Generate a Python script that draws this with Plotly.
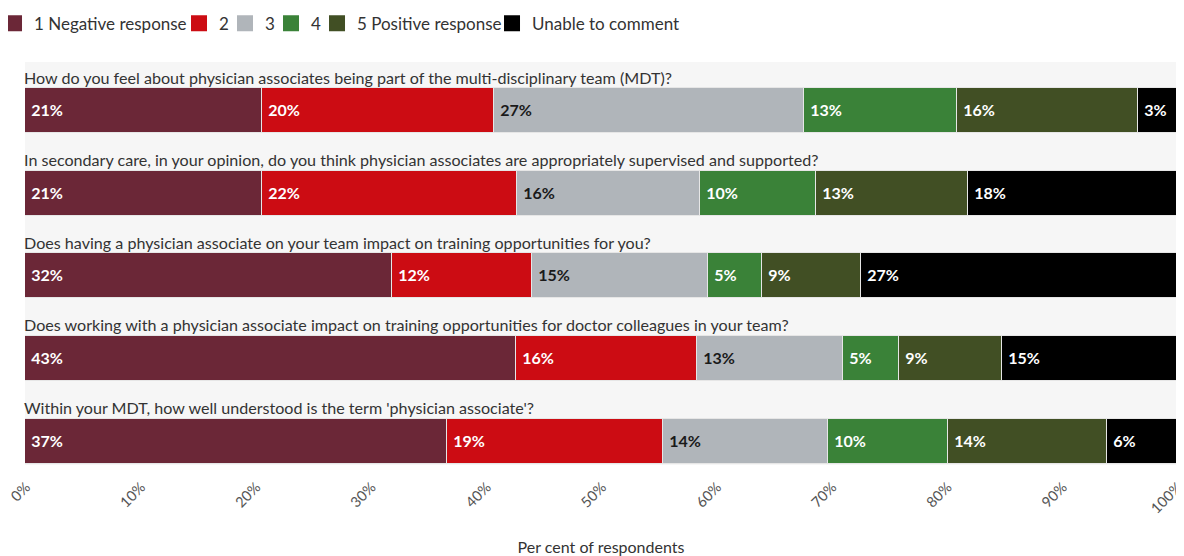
import plotly.graph_objects as go

questions = [
    "How do you feel about physician associates being part of the multi-disciplinary team (MDT)?",
    "In secondary care, in your opinion, do you think physician associates are appropriately supervised and supported?",
    "Does having a physician associate on your team impact on training opportunities for you?",
    "Does working with a physician associate impact on training opportunities for doctor colleagues in your team?",
    "Within your MDT, how well understood is the term 'physician associate'?",
]

series_names = ["1 Negative response", "2", "3", "4", "5 Positive response", "Unable to comment"]

resp_1 = [20.6, 20.6, 31.9, 42.6, 36.6]
resp_2 = [20.1, 22.1, 12.1, 15.7, 18.8]
resp_3 = [26.9, 15.9, 15.3, 12.7, 14.3]
resp_4 = [13.3, 10.1, 4.7, 4.9, 10.4]
resp_5 = [15.7, 13.2, 8.6, 8.9, 13.8]
resp_unable = [3.4, 18.1, 27.4, 15.3, 6.2]

tick_vals = [0, 10, 20, 30, 40, 50, 60, 70, 80, 90, 100]
tick_text = ["0%", "10%", "20%", "30%", "40%", "50%", "60%", "70%", "80%", "90%", "100%"]

colors = ["#6b2737", "#cc0c13", "#b0b5ba", "#3a8238", "#414f24", "#000000"]
text_colors = ["#ffffff", "#ffffff", "#1a1a1a", "#ffffff", "#ffffff", "#ffffff"]
legend_entry_widths = [140, 1, 1, 1, 130, 0]

FONT = "Lato"

fig = go.Figure()
all_series = [resp_1, resp_2, resp_3, resp_4, resp_5, resp_unable]
ypos = list(range(len(questions)))
for name, vals, col, tcol in zip(series_names, all_series, colors, text_colors):
    fig.add_trace(go.Bar(
        x=vals, y=ypos, orientation="h", name=name, showlegend=False,
        marker=dict(color=col, line=dict(color="#e6e6e6", width=1.5)),
        width=0.545,
        texttemplate="&nbsp;%{x:.0f}%", textposition="inside", insidetextanchor="start",
        textangle=0, constraintext="none",
        textfont=dict(family=FONT, size=16, color=tcol, weight="bold"),
        hoverinfo="skip",
    ))
# legend entries (square swatches)
for name, col, lw in zip(series_names, colors, legend_entry_widths):
    fig.add_trace(go.Scatter(
        x=[None], y=[None], mode="markers", name=name,
        marker=dict(symbol="square", size=17, color=col),
        legendwidth=lw if lw else None,
        hoverinfo="skip",
    ))

for i, q in enumerate(questions):
    fig.add_annotation(x=0, y=i - 0.405, xref="x", yref="y", text=q, showarrow=False,
                       xanchor="left", yanchor="middle", xshift=-3,
                       font=dict(family=FONT, size=16.1, color="#333333"))

fig.update_layout(
    barmode="stack",
    width=1176, height=548,
    margin=dict(l=17, r=7, t=54, b=91, autoexpand=False),
    plot_bgcolor="#f6f6f6", paper_bgcolor="#ffffff",
    font=dict(family=FONT, color="#333333"),
    bargap=0,
    showlegend=True,
    legend=dict(orientation="h", x=-0.0269, y=1.14, xref="paper", yref="paper",
                yanchor="top", xanchor="left",
                font=dict(family=FONT, size=17, color="#333333"),
                itemwidth=30, tracegroupgap=0, traceorder="normal",
                bgcolor="rgba(0,0,0,0)"),
    xaxis=dict(range=[-0.0001, 100.0001], tickvals=tick_vals, ticktext=tick_text, tickangle=-45,
               showgrid=False, zeroline=False, showline=False, automargin=False,
               ticklabeloverflow="allow", ticklabelshift=1, ticklabelstandoff=10,
               tickfont=dict(family=FONT, size=14.5, color="#555555"),
               title=dict(text="Per cent of respondents", font=dict(family=FONT, size=16, color="#333333"),
                          standoff=35)),
    yaxis=dict(range=[4.29, -0.587], showticklabels=False, showgrid=False, zeroline=False,
               showline=False, automargin=False),
)

fig.write_html("out.html")
